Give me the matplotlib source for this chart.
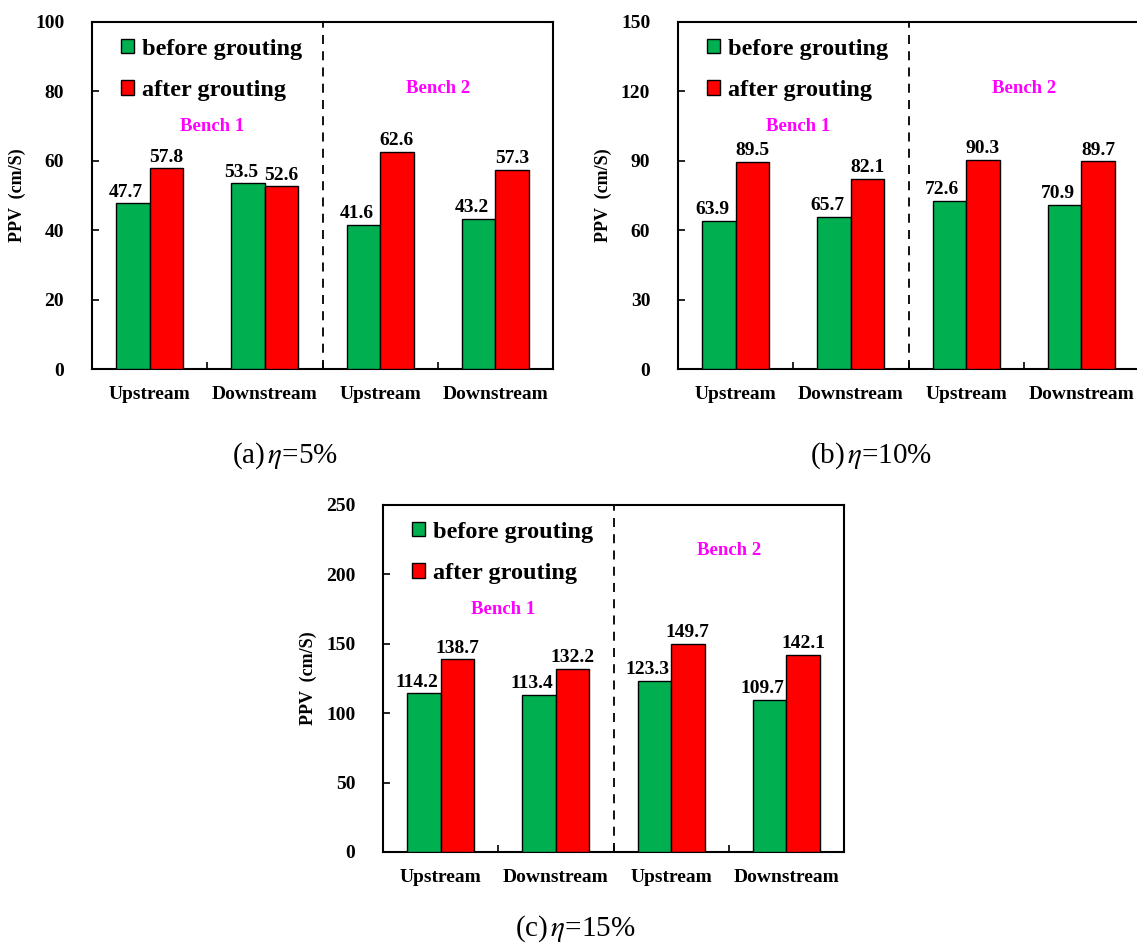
import numpy as np
import matplotlib
matplotlib.use("Agg")
import matplotlib.pyplot as plt

plt.rcParams['font.family'] = ['Liberation Serif', 'DejaVu Serif']
plt.rcParams['mathtext.fontset'] = 'stix'

# PPV values (cm/s) at each monitoring point
categories = ['Upstream', 'Downstream', 'Upstream', 'Downstream']
before_5 = [47.7, 53.5, 41.6, 43.2]
after_5 = [57.8, 52.6, 62.6, 57.3]
before_10 = [63.9, 65.7, 72.6, 70.9]
after_10 = [89.5, 82.1, 90.3, 89.7]
before_15 = [114.2, 113.4, 123.3, 109.7]
after_15 = [138.7, 132.2, 149.7, 142.1]

y_max = [100, 150, 250]
y_step = [20, 30, 50]
captions = [r'(a)$\,\eta$=5%', r'(b)$\,\eta$=10%', r'(c)$\,\eta$=15%']

GREEN = '#00B050'
RED = '#FF0000'
MAGENTA = '#FF00FF'

fig = plt.figure(figsize=(11.37, 9.5), dpi=100)

W, H = 461 / 1137, 347 / 950
positions = [(92 / 1137, 1 - 369 / 950),
             (678 / 1137, 1 - 369 / 950),
             (383 / 1137, 1 - 852 / 950)]
caption_xy = [(285, 456), (871, 456), (575, 929)]

x = np.arange(len(categories)) + 0.5
bw = 0.29


def panel(ax, before, after, ymax, ystep, bench2_y):
    b1 = ax.bar(x - bw / 2, before, bw, color=GREEN, edgecolor='black', linewidth=1.0,
                label='before grouting', zorder=3)
    b2 = ax.bar(x + bw / 2, after, bw, color=RED, edgecolor='black', linewidth=1.0,
                label='after grouting', zorder=3)

    for xi, v in zip(x - bw / 2, before):
        ax.annotate(f'{v:.1f}', (xi, v), xytext=(-5, 2), textcoords='offset points',
                    ha='center', va='bottom', fontsize=14, fontweight='bold')
    for xi, v in zip(x + bw / 2, after):
        ax.annotate(f'{v:.1f}', (xi, v), xytext=(0, 2), textcoords='offset points',
                    ha='center', va='bottom', fontsize=14, fontweight='bold')

    ax.set_xlim(0, 4)
    ax.set_ylim(0, ymax)
    ax.set_yticks(np.arange(0, ymax + 1, ystep))
    ax.set_xticks(x)
    ax.set_xticklabels(categories)
    ax.set_xticks([1, 2, 3], minor=True)
    ax.tick_params(axis='x', which='major', length=0, pad=12, labelsize=14)
    ax.tick_params(axis='x', which='minor', direction='in', length=5, width=1.2)
    ax.tick_params(axis='y', direction='in', length=5, width=1.2, pad=20, labelsize=14)
    for lbl in ax.get_xticklabels() + ax.get_yticklabels():
        lbl.set_fontweight('bold')
    for sp in ax.spines.values():
        sp.set_linewidth(1.5)

    # bench divider
    ax.axvline(2, color='black', linestyle=(0, (5, 4)), linewidth=1.3, zorder=2)

    ax.text(0.26, 0.70, 'Bench 1', transform=ax.transAxes, color=MAGENTA,
            fontsize=13.5, fontweight='bold', ha='center', va='center')
    ax.text(0.75, bench2_y, 'Bench 2', transform=ax.transAxes, color=MAGENTA,
            fontsize=13.5, fontweight='bold', ha='center', va='center')

    ax.set_ylabel('PPV  (cm/S)', fontsize=13, fontweight='bold', va='center')
    ax.yaxis.set_label_coords(-0.163, 0.5)

    ax.legend(handles=[b1, b2], loc='upper left', bbox_to_anchor=(0.063, 0.952),
              frameon=False, handlelength=0.55, handleheight=0.55, handletextpad=0.3,
              labelspacing=0.85, borderpad=0, borderaxespad=0,
              prop={'size': 17.5, 'weight': 'bold'})


data = [(before_5, after_5), (before_10, after_10), (before_15, after_15)]
bench2 = [0.807, 0.807, 0.87]
for i, (pos, (bef, aft)) in enumerate(zip(positions, data)):
    ax = fig.add_axes([pos[0], pos[1], W, H])
    panel(ax, bef, aft, y_max[i], y_step[i], bench2[i])
    cx, cy = caption_xy[i]
    fig.text(cx / 1137, 1 - cy / 950, captions[i], fontsize=21,
             ha='center', va='center')

fig.savefig('out.png', dpi=100)
